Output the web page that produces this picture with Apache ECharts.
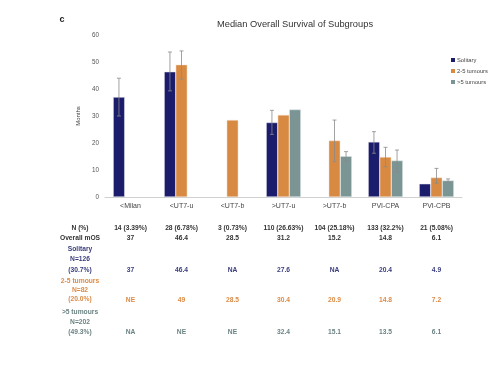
<!DOCTYPE html>
<html><head><meta charset="utf-8">
<script src="https://cdn.jsdelivr.net/npm/echarts@6/dist/echarts.min.js"></script>
<style>html,body{margin:0;padding:0;background:#fff}#c{width:495px;height:369px}</style>
</head><body><div id="c"></div>
<script>
const categories = ['<Milan','<UT7-u','<UT7-b','>UT7-u','>UT7-b','PVI-CPA','PVI-CPB'];
const seriesNames = ['Solitary','2-5 tumours','>5 tumours'];
const solitary = [37, 46.4, null, 27.6, null, 20.4, 4.9];
const tumours2to5 = [null, 49, 28.5, 30.4, 20.9, 14.8, 7.2];
const tumoursOver5 = [null, null, null, 32.4, 15.1, 13.5, 6.1];
// error bars [low, high]
const errSolitary = [[30,44],[39.3,53.7],null,[23.2,32.1],null,[16.2,24.2],null];
const err2to5 = [null,[43.7,54.1],null,null,[13.1,28.5],[11.2,18.4],[5.1,10.6]];
const errOver5 = [null,null,null,null,[13.2,16.8],[9.4,17.4],[5.4,6.7]];
const yTicks = {min:0, max:60, interval:10};
// table
const nPct = ['14 (3.39%)','28 (6.78%)','3 (0.73%)','110 (26.63%)','104 (25.18%)','133 (32.2%)','21 (5.08%)'];
const overallMOS = ['37','46.4','28.5','31.2','15.2','14.8','6.1'];
const solitaryRow = ['37','46.4','NA','27.6','NA','20.4','4.9'];
const row2to5 = ['NE','49','28.5','30.4','20.9','14.8','7.2'];
const rowOver5 = ['NA','NE','NE','32.4','15.1','13.5','6.1'];

const colors = ['#1b1c6b','#d88a42','#7b9494'];
const gapRatio = 0.32;

function errSeries(errs, idx){
  const data = [];
  errs.forEach((e,i)=>{ if(e) data.push([i, e[0], e[1]]); });
  return {
    type:'custom', name:'err'+idx, z:5, silent:true,
    encode:{x:0, y:[1,2]},
    data,
    renderItem(params, api){
      const band = api.size([1,0])[0];
      const bw = band*(1-gapRatio)/3;
      const off = (idx-1)*bw;
      const lo = api.coord([api.value(0), api.value(1)]);
      const hi = api.coord([api.value(0), api.value(2)]);
      const x = lo[0]+off, c = 2;
      const st = {stroke:'#8a8a8a', lineWidth:0.8};
      return {type:'group', children:[
        {type:'line', shape:{x1:x,y1:lo[1],x2:x,y2:hi[1]}, style:st},
        {type:'line', shape:{x1:x-c,y1:lo[1],x2:x+c,y2:lo[1]}, style:st},
        {type:'line', shape:{x1:x-c,y1:hi[1],x2:x+c,y2:hi[1]}, style:st}
      ]};
    }
  };
}

const chart = echarts.init(document.getElementById('c'), null, {renderer:'canvas'});
const font = 'Liberation Sans, Arial, sans-serif';
chart.setOption({
  animation:false,
  color:colors,
  textStyle:{fontFamily:font},
  title:{text:'Median Overall Survival of Subgroups', left:290, top:15, textAlign:'center',
    textStyle:{fontSize:9.3, fontWeight:'normal', color:'#333', fontFamily:font}},
  legend:{data:seriesNames, orient:'vertical', left:446, top:52, itemWidth:4, itemHeight:4, itemGap:5,
    icon:'rect', itemStyle:{borderWidth:0}, textStyle:{fontSize:5.8, color:'#444', padding:[0,0,0,-3]}},
  grid:{left:105, right:33, top:35, bottom:172},
  xAxis:{type:'category', data:categories,
    axisLine:{lineStyle:{color:'#d0d0d0'}}, axisTick:{show:false},
    axisLabel:{fontSize:7, color:'#444', margin:6}},
  yAxis:{type:'value', min:yTicks.min, max:yTicks.max, interval:yTicks.interval,
    name:'Months', nameLocation:'middle', nameGap:11, nameRotate:90,
    nameTextStyle:{fontSize:6, color:'#444'},
    axisLine:{show:false}, axisTick:{show:false}, splitLine:{show:false},
    axisLabel:{fontSize:6.3, color:'#555', margin:6}},
  series:[
    {type:'bar', name:seriesNames[0], data:solitary, barGap:'0%', barCategoryGap:(gapRatio*100)+'%',
      itemStyle:{color:colors[0], borderColor:'#e8e8f0', borderWidth:0.5}},
    {type:'bar', name:seriesNames[1], data:tumours2to5, barGap:'0%', barCategoryGap:(gapRatio*100)+'%',
      itemStyle:{color:colors[1], borderColor:'#f0e0d0', borderWidth:0.5}},
    {type:'bar', name:seriesNames[2], data:tumoursOver5, barGap:'0%', barCategoryGap:(gapRatio*100)+'%',
      itemStyle:{color:colors[2], borderColor:'#e0e8e8', borderWidth:0.5}},
    errSeries(errSolitary,0), errSeries(err2to5,1), errSeries(errOver5,2)
  ]
});

// table + annotations
const g = [];
const txt = (x,y,t,color,opts={}) => g.push({type:'text', x, y, style:Object.assign({text:t, fill:color, fontSize:6.7,
  fontFamily:font, fontWeight:'bold', textAlign:'center', textVerticalAlign:'middle'}, opts), silent:true});
txt(62,20,'c','#222',{fontSize:9, fontWeight:'bold'});
const labelX = 80;
const rows = [
  {vals:nPct, y:228, color:'#333', labels:[['N (%)',228]], lc:'#333'},
  {vals:overallMOS, y:238, color:'#333', labels:[['Overall mOS',238]], lc:'#333'},
  {vals:solitaryRow, y:270, color:'#3a3d7c', labels:[['Solitary',249],['N=126',259],['(30.7%)',270]], lc:'#3a3d7c'},
  {vals:row2to5, y:300, color:'#dc8a45', labels:[['2-5 tumours',281],['N=82',290],['(20.0%)',299]], lc:'#dc8a45'},
  {vals:rowOver5, y:332, color:'#6b8282', labels:[['>5 tumours',312],['N=202',322],['(49.3%)',332]], lc:'#6b8282'}
];
rows.forEach(r=>{
  r.labels.forEach(l=>txt(labelX,l[1],l[0],r.lc));
  r.vals.forEach((v,i)=>{
    const x = chart.convertToPixel({xAxisIndex:0}, categories[i]);
    txt(x, r.y, v, r.color);
  });
});
chart.setOption({graphic:g});
</script></body></html>
